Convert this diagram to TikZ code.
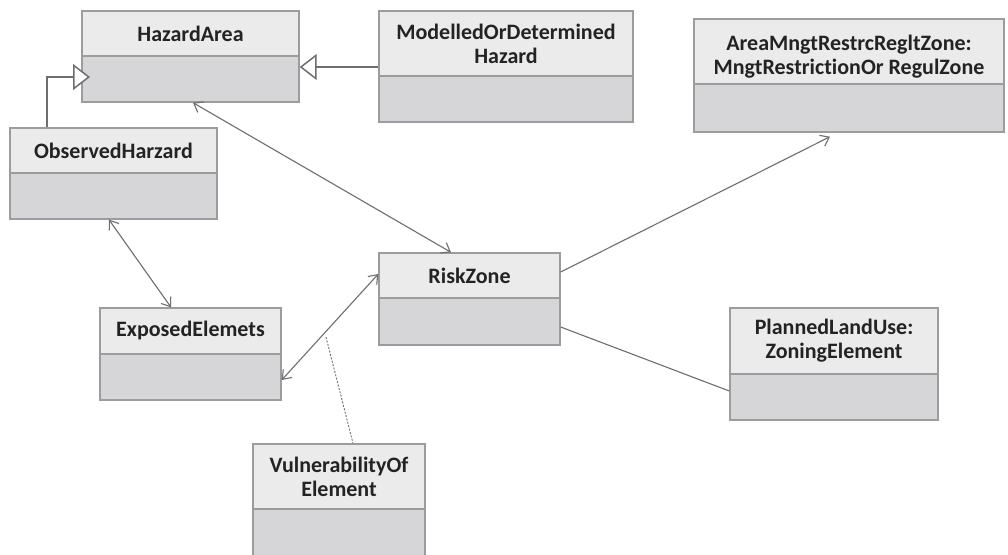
\documentclass[tikz,border=0pt]{standalone}
\usepackage{fontspec}
\setmainfont{Carlito}[Ligatures=NoCommon]
\usetikzlibrary{arrows.meta,fit}

\definecolor{headfill}{HTML}{EBEBEB}
\definecolor{bodyfill}{HTML}{D6D6D8}
\definecolor{framegray}{HTML}{9C9C9C}
\definecolor{wire}{HTML}{6E6E6E}
\definecolor{ink}{HTML}{232323}

\tikzset{
  classframe/.style={draw=framegray, line width=1.4pt, inner sep=0pt},
  classtitle/.style={font=\bfseries\fontsize{22}{24}\selectfont, text=ink,
    align=center, inner sep=0pt},
  assoc/.style={draw=wire, line width=1.1pt,
    >={Straight Barb[length=8pt,width=12pt]}},
  gen/.style={draw=wire, line width=1.1pt,
    -{Triangle[open, length=17pt, width=26pt, fill=white, line width=1.5pt]}},
  plainlink/.style={draw=wire, line width=1.1pt},
  assocclass/.style={draw=wire, line width=0.9pt, dash pattern=on 2pt off 1.5pt},
}

% class box: [title options], name, left, top, right, divider, bottom, title
\newcommand{\umlclass}[8][]{%
  \fill[bodyfill] (#3,#4) rectangle (#5,#7);
  \fill[headfill] (#3,#4) rectangle (#5,#6);
  \draw[framegray, line width=1.4pt] (#3,#6) -- (#5,#6);
  \path (#3,#4) coordinate (#2-nw) (#5,#7) coordinate (#2-se);
  \node[classframe, fit=(#2-nw)(#2-se)] (#2) {};
  \node[classtitle,#1] (#2-title) at ({(#3+#5)/2},{(#4+#6)/2}) {#8};
}

\begin{document}
\begin{tikzpicture}[x=1pt,y=-1pt]
  \useasboundingbox (0,0) rectangle (1008,554);
  \clip (0,0) rectangle (1008,554);
  \fill[white] (0,0) rectangle (1008,554);

  % classes
  \umlclass{ha}{82}{11}{299}{56}{102}{HazardArea}
  \umlclass{mh}{379}{11}{633}{76}{122}{ModelledOrDetermined\\Hazard}
  \umlclass[yshift=-5pt]{am}{694}{19}{1004}{84}{132}{AreaMngtRestrcRegltZone:\\MngtRestrictionOr RegulZone}
  \umlclass{oh}{10}{128}{217}{173}{219}{ObservedHarzard}
  \umlclass{rz}{379}{253}{560}{298}{345}{RiskZone}
  \umlclass{ee}{100}{308}{281}{354}{400}{ExposedElemets}
  \umlclass{pl}{730}{308}{938}{374}{420}{PlannedLandUse:\\ZoningElement}
  \umlclass{vu}{253}{444}{425}{509}{560}{VulnerabilityOf\\Element}

  % generalisations
  \coordinate (g1) at (90,77);
  \draw[gen] ([xshift=-66.5pt]oh.north) |- (g1);
  \draw[gen] (mh.west |- 0,67) -- (ha.east |- 0,67);

  % associations
  \draw[assoc,<->] ([xshift=2.5pt]ha.south) -- ([xshift=-18.5pt]rz.north);
  \draw[assoc,<->] ([xshift=-4.5pt]oh.south) -- ([xshift=-19.5pt]ee.north);
  \draw[assoc,<->] ([yshift=-26pt]ee.east) -- ([yshift=25pt]rz.west);
  \draw[assoc,->] ([yshift=27pt]rz.east) -- ([xshift=-19pt,yshift=-4pt]am.south);
  \draw[plainlink] ([yshift=-28pt]rz.east) -- ([yshift=-27pt]pl.west);

  % association class link
  \coordinate (ac) at (326,337);
  \draw[assocclass] (ac) -- ([xshift=14pt]vu.north);
\end{tikzpicture}
\end{document}
